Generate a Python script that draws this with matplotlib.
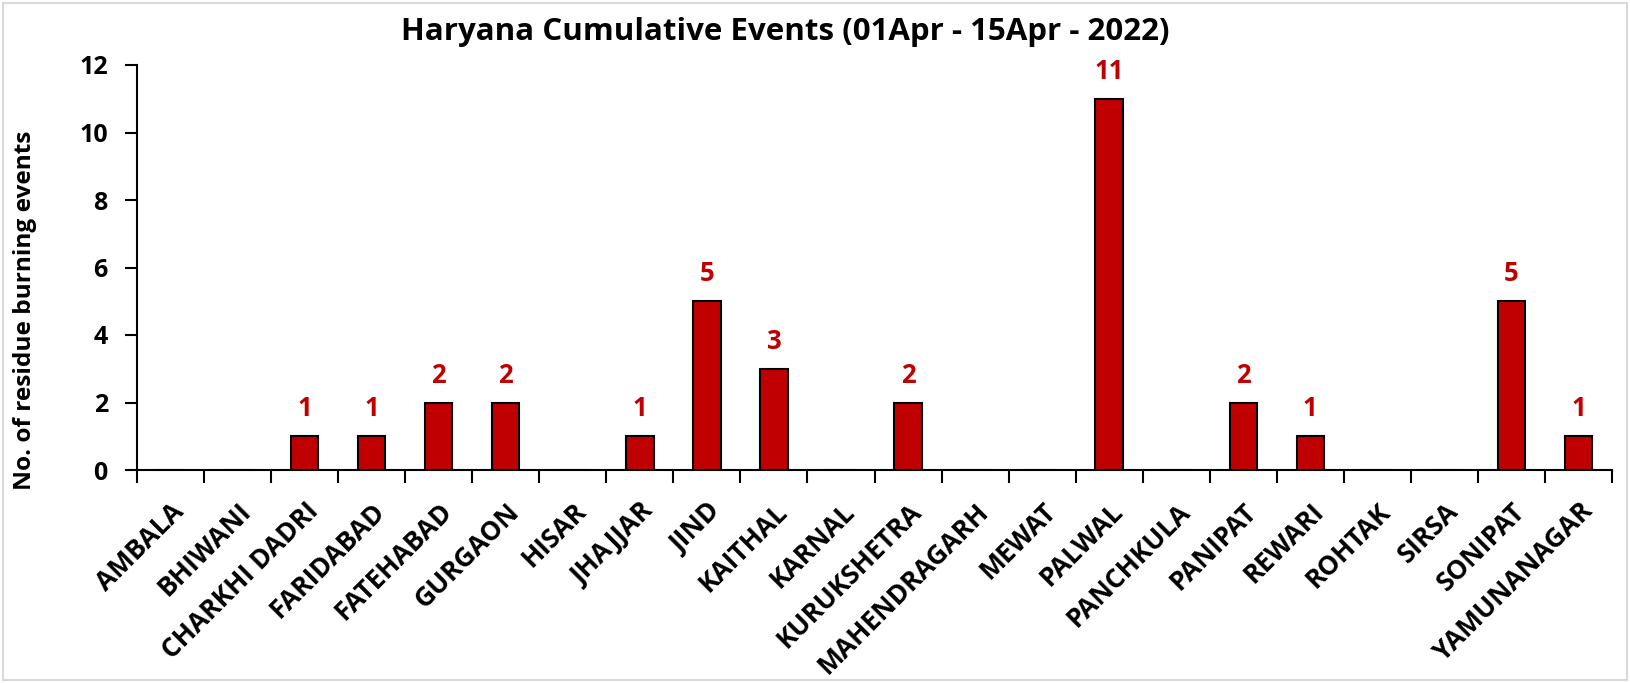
import matplotlib
matplotlib.use("Agg")
import matplotlib.pyplot as plt
from matplotlib.patches import Rectangle
import numpy as np

districts = ["AMBALA", "BHIWANI", "CHARKHI DADRI", "FARIDABAD", "FATEHABAD",
             "GURGAON", "HISAR", "JHAJJAR", "JIND", "KAITHAL", "KARNAL",
             "KURUKSHETRA", "MAHENDRAGARH", "MEWAT", "PALWAL", "PANCHKULA",
             "PANIPAT", "REWARI", "ROHTAK", "SIRSA", "SONIPAT", "YAMUNANAGAR"]
events = [0, 0, 1, 1, 2, 2, 0, 1, 5, 3, 0, 2, 0, 0, 11, 0, 2, 1, 0, 0, 5, 1]
yticks = [0, 2, 4, 6, 8, 10, 12]
title = "Haryana Cumulative Events (01Apr - 15Apr - 2022)"
ylabel = "No. of residue burning events"

plt.rcParams['font.family'] = ['Open Sans', 'DejaVu Sans']
plt.rcParams['font.weight'] = 'bold'

W, H = 1630, 683
fig = plt.figure(figsize=(W / 100, H / 100), dpi=100)
ax_left, ax_bottom, ax_w, ax_h = 137 / W, 1 - 470 / H, (1612 - 137) / W, (470 - 65) / H
ax = fig.add_axes([ax_left, ax_bottom, ax_w, ax_h])

x = np.arange(len(districts))
ax.bar(x, events, width=0.41, color="#C00000", edgecolor="black", linewidth=1.5, zorder=3)
for xi, v in zip(x, events):
    if v > 0:
        ax.annotate(str(v), (xi, v), xytext=(0, 10), textcoords="offset points",
                    ha="center", va="bottom", color="#C00000", fontsize=18.5, fontweight="bold")

ax.set_xlim(-0.5, len(districts) - 0.5)
ax.set_ylim(0, 12)
ax.set_yticks(yticks)
ax.set_yticklabels([str(t) for t in yticks], fontsize=18, fontweight="bold")
ax.tick_params(axis="y", length=9, width=1.5, pad=12)

ax.set_xticks(np.arange(-0.5, len(districts)), minor=False)
ax.set_xticklabels([])
ax.tick_params(axis="x", which="major", length=9, width=1.5)
ax.set_xticks(x, minor=True)
ax.set_xticklabels(districts, minor=True, rotation=45, ha="right", va="top",
                   rotation_mode="anchor", fontsize=19, fontweight="bold")
ax.tick_params(axis="x", which="minor", length=0, pad=20)

for s in ["top", "right"]:
    ax.spines[s].set_visible(False)
for s in ["left", "bottom"]:
    ax.spines[s].set_linewidth(1.5)

fig.text(25 / W, 1 - 310 / H, ylabel, rotation=90, ha="center", va="center",
         fontsize=17.6, fontweight="bold")

fig.text(785 / W, 1 - 32 / H, title, ha="center", va="center", fontsize=22.5, fontweight="bold")

fig.patches.append(Rectangle((3 / W, 3 / H), 1 - 6 / W, 1 - 6 / H, transform=fig.transFigure,
                             fill=False, edgecolor="#d9d9d9", linewidth=1.5))

fig.savefig("out.png", dpi=100)
